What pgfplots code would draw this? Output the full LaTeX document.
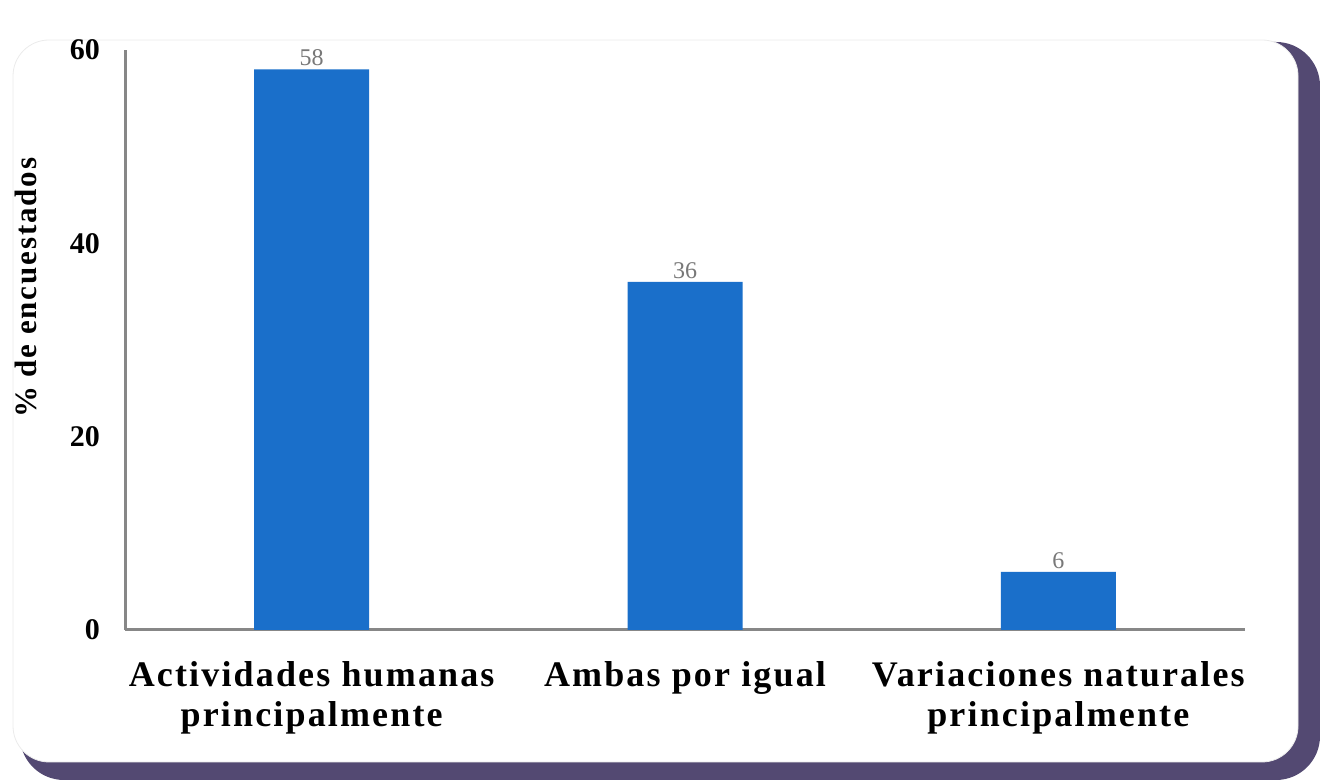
\documentclass[border=0pt]{standalone}
\usepackage{fontspec}
\setmainfont{Liberation Serif}
\usepackage{pgfplots}
\pgfplotsset{compat=1.18}
\definecolor{barblue}{RGB}{26,111,202}
\definecolor{cardpurple}{RGB}{83,73,114}
\definecolor{axisgray}{RGB}{135,135,135}
\definecolor{valgray}{RGB}{120,120,120}
\newfontfamily\labfont[LetterSpace=6]{Liberation Serif}

\begin{document}
\begin{tikzpicture}
% page and card background
\path (0,0) rectangle (660pt,390pt);
\fill[cardpurple, rounded corners=22pt] (10pt,0pt) rectangle (660pt,369pt);
\fill[white, draw=black!8, rounded corners=18pt] (6.5pt,9pt) rectangle (649pt,370pt);

\begin{axis}[
    at={(62.5pt,75pt)}, anchor=south west,
    scale only axis,
    width=560pt, height=290pt,
    ybar, bar width=57.5pt,
    xmin=-0.5, xmax=2.5,
    ymin=0, ymax=60,
    xtick={0,1,2},
    xticklabels={Actividades humanas\\principalmente, Ambas por igual, Variaciones naturales\\principalmente},
    ytick={0,20,40,60},
    axis x line*=bottom, axis y line*=left,
    axis line style={axisgray, line width=1.5pt, -},
    major tick length=0pt,
    /pgf/number format/assume math mode=true,
    yticklabel style={font=\fontsize{15}{15}\selectfont\bfseries, xshift=-9pt},
    xticklabel style={font=\labfont\fontsize{18}{20}\selectfont\bfseries, align=center, anchor=north, yshift=-12pt},
    ylabel={\% de encuestados},
    ylabel style={font=\labfont\fontsize{15.5}{15.5}\selectfont\bfseries, at={(axis description cs:-0.088,0.59)}, anchor=center, rotate=0},
    nodes near coords,
    every node near coord/.append style={font=\fontsize{12}{12}\selectfont, color=valgray, anchor=south, inner sep=1.5pt},
]
\addplot[fill=barblue, draw=none] coordinates {(0,58) (1,36) (2,6)};
\end{axis}
\end{tikzpicture}
\end{document}
